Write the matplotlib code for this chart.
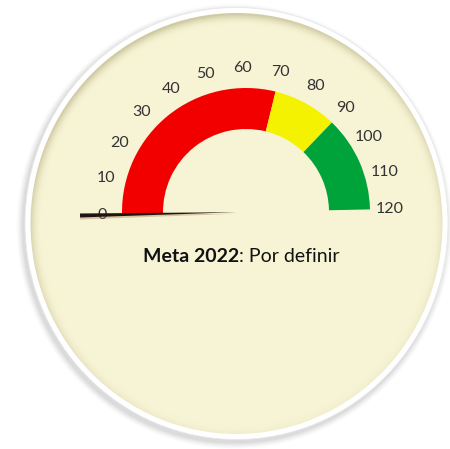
import numpy as np
import matplotlib.pyplot as plt
from matplotlib.patches import Wedge, Ellipse, Polygon

# ---- data ----
segment_bounds = [0, 70, 90, 120]
segment_colors = ['#F20000', '#F4F200', '#00A23A']
tick_values = [0, 10, 20, 30, 40, 50, 60, 70, 80, 90, 100, 110, 120]
tick_labels = ['0', '10', '20', '30', '40', '50', '60', '70', '80', '90', '100', '110', '120']
needle_value = 0
goal_bold = 'Meta 2022'
goal_rest = ': Por definir'

W, H = 450, 449
fig = plt.figure(figsize=(4.5, 4.49), dpi=100)
fig.patch.set_facecolor('white')
ax = fig.add_axes([0, 0, 1, 1])
ax.set_xlim(0, W)
ax.set_ylim(0, H)
ax.set_aspect('equal')
ax.axis('off')

# ---- background disc ----
dcx, dcy = 236.5, H - 223.5
dw, dh = 423, 432
# soft shadow
for i, a in enumerate(np.linspace(0.05, 0.012, 8)):
    s = 2 + i * 1.6
    ax.add_patch(Ellipse((dcx - 2, dcy - 3), dw + s, dh + s, facecolor='#707070',
                         edgecolor='none', alpha=a, zorder=1))
# white rim
ax.add_patch(Ellipse((dcx, dcy), dw, dh, facecolor='white', edgecolor='#e8e8e8',
                     lw=0.6, zorder=2))
# cream fill with edge darkening (radial gradient clipped)
inner = Ellipse((dcx, dcy), dw - 11, dh - 11, facecolor='none', edgecolor='none', zorder=3)
ax.add_patch(inner)
yy, xx = np.mgrid[0:H, 0:W]
ex = (xx - dcx) / ((dw - 11) / 2)
ey = (yy - (H - dcy)) / ((dh - 11) / 2)
r = np.sqrt(ex ** 2 + ey ** 2)
base = np.array([247, 244, 213]) / 255.0
dark = np.array([205, 200, 160]) / 255.0
edge = np.clip((r - 0.95) / 0.05, 0, 1) ** 2
bias = 0.55 + 0.45 * np.clip(ey * 0.8 + (-ex) * 0.3, -1, 1)
t = edge * np.clip(bias, 0, 1)
img = base[None, None, :] * (1 - t[..., None]) + dark[None, None, :] * t[..., None]
im = ax.imshow(img, extent=[0, W, H, 0], origin='upper', zorder=3, interpolation='bilinear')
im.set_clip_path(inner)
ax.set_ylim(0, H)
ax.set_xlim(0, W)

# ---- gauge ----
gcx, gcy = 246, H - 212
r_out, r_in = 124, 83
rot = 1.2
vmax = segment_bounds[-1]


def ang(v):
    return 180 + rot - 180.0 * v / vmax


for (a, b), c in zip(zip(segment_bounds[:-1], segment_bounds[1:]), segment_colors):
    ax.add_patch(Wedge((gcx, gcy), r_out, ang(b), ang(a), width=r_out - r_in,
                       facecolor=c, edgecolor='none', zorder=5))

# tick labels
r_lab = 144
for v, lab in zip(tick_values, tick_labels):
    th = np.deg2rad(ang(v))
    ax.text(gcx + r_lab * np.cos(th), gcy + r_lab * np.sin(th), lab,
            ha='center', va='center', fontsize=11.5, family='Lato',
            color='#333333', zorder=6)

# needle (thin near hub, thicker at tip)
th = np.deg2rad(ang(needle_value))
L = 166
ux, uy = np.cos(th), np.sin(th)
px, py = -uy, ux
tip = (gcx + L * ux, gcy + L * uy)
hub = (gcx + 9 * ux, gcy + 9 * uy)
hw = 2.0
ax.add_patch(Polygon([(hub[0], hub[1] - 1.5),
                      (tip[0] + px * hw * 1.3, tip[1] + py * hw * 1.3 - 1.5),
                      (tip[0] - px * hw * 1.3, tip[1] - py * hw * 1.3 - 1.5)],
                     closed=True, facecolor='#a07050', edgecolor='none', alpha=0.35, zorder=7))
ax.add_patch(Polygon([hub,
                      (tip[0] + px * hw, tip[1] + py * hw),
                      (tip[0] - px * hw, tip[1] - py * hw)],
                     closed=True, facecolor='#1e1410', edgecolor='none', zorder=8))

# goal text
ty = H - 257
tb = ax.text(0, 0, goal_bold, fontsize=14, family='Lato', weight='bold', color='#111111')
tr = ax.text(0, 0, goal_rest, fontsize=14, family='Lato', color='#111111')
fig.canvas.draw()
rend = fig.canvas.get_renderer()
wb = tb.get_window_extent(rend).width
wr = tr.get_window_extent(rend).width
tot = wb + wr
x0 = 241 - tot / 2
tb.set_position((x0, ty))
tb.set_va('center')
tr.set_position((x0 + wb, ty))
tr.set_va('center')

fig.savefig('out.png', dpi=100, facecolor='white')
